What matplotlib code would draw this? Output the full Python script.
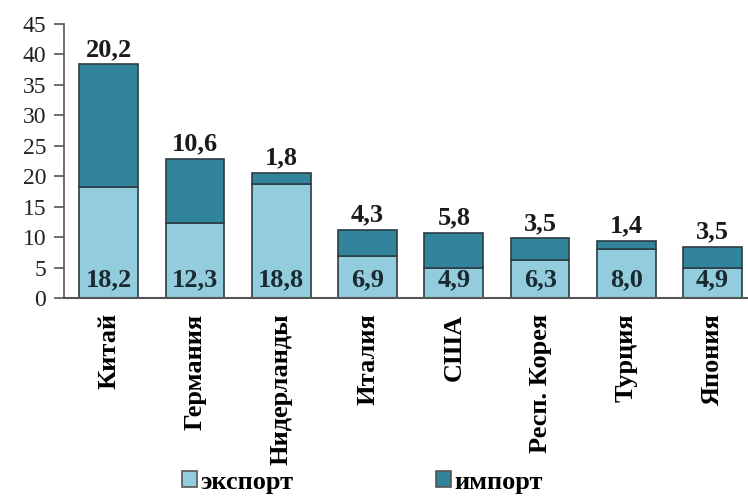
import matplotlib
matplotlib.use('Agg')
import matplotlib.pyplot as plt
import numpy as np

plt.rcParams['font.family'] = ['Liberation Serif', 'DejaVu Serif']

countries = ['Китай', 'Германия', 'Нидерланды', 'Италия', 'США',
             'Респ. Корея', 'Турция', 'Япония']
export = [18.2, 12.3, 18.8, 6.9, 4.9, 6.3, 8.0, 4.9]
imports = [20.2, 10.6, 1.8, 4.3, 5.8, 3.5, 1.4, 3.5]
labels_export = ['18,2', '12,3', '18,8', '6,9', '4,9', '6,3', '8,0', '4,9']
labels_import = ['20,2', '10,6', '1,8', '4,3', '5,8', '3,5', '1,4', '3,5']

c_exp = '#93CDDD'
c_imp = '#31849B'
edge = '#2b3d44'


def main():
    fig = plt.figure(figsize=(7.48, 4.98), dpi=100)
    ax = fig.add_axes([0.086, 0.4016, 0.914, 0.5502])
    x = np.arange(len(countries))
    exp = np.array(export)
    imp = np.array(imports)

    ax.bar(x, exp, width=0.68, color=c_exp, edgecolor=edge, linewidth=1.2,
           label='экспорт', zorder=2)
    ax.bar(x, imp, width=0.68, bottom=exp, color=c_imp, edgecolor=edge,
           linewidth=1.2, label='импорт', zorder=2)

    for i in range(len(x)):
        ax.text(x[i], 3.0, labels_export[i], ha='center', va='center',
                fontsize=19, fontweight='bold', color='#1a2a30', zorder=3)
        ax.text(x[i], exp[i] + imp[i] + 2.4, labels_import[i], ha='center',
                va='center', fontsize=19, fontweight='bold', color='#1a1a1a',
                zorder=3)

    ax.set_ylim(0, 45)
    ax.set_xlim(-0.515, 7.41)
    ax.set_yticks(np.arange(0, 46, 5))
    ax.set_xticks(x)
    ax.set_xticklabels(countries, rotation=90, fontsize=19, fontweight='bold')
    ax.tick_params(axis='x', length=0, pad=11)
    ax.tick_params(axis='y', labelsize=17, length=7, width=1.2,
                   color='#555555', labelcolor='#222222', pad=6)
    for s in ['top', 'right']:
        ax.spines[s].set_visible(False)
    ax.spines['left'].set_color('#555555')
    ax.spines['bottom'].set_color('#555555')
    ax.spines['left'].set_linewidth(1.2)
    ax.spines['bottom'].set_linewidth(1.5)

    leg = fig.legend(loc='center left', bbox_to_anchor=(0.243, 16 / 498),
                     ncol=2, frameon=False,
                     prop={'size': 19, 'weight': 'bold'},
                     handlelength=0.58, handleheight=0.58, handletextpad=0.12,
                     columnspacing=5.4, borderpad=0, borderaxespad=0)
    for h in leg.legend_handles:
        h.set_edgecolor('#555555')

    fig.savefig('out.png', dpi=100)


if __name__ == '__main__':
    main()
